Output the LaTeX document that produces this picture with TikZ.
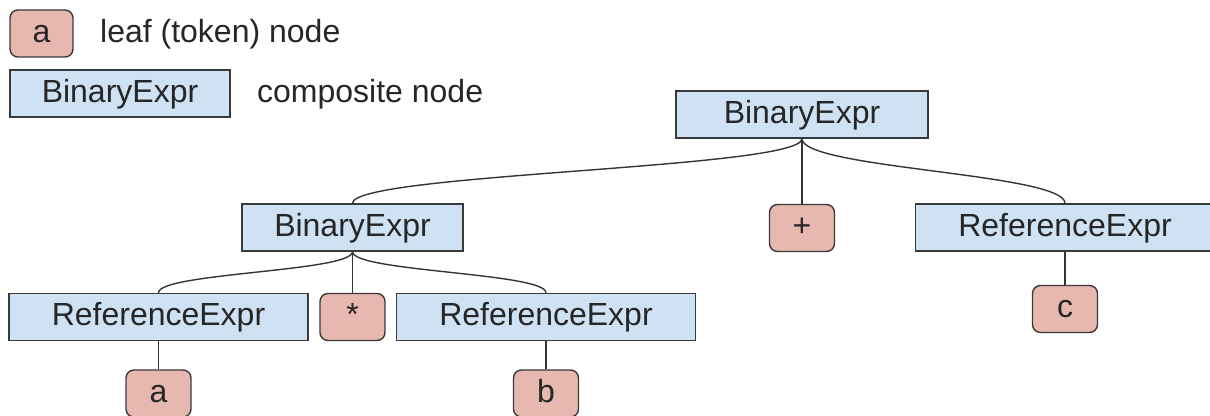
\documentclass[tikz,border=0pt]{standalone}
\usepackage{fontspec}
\setmainfont{Liberation Sans}
\definecolor{compfill}{HTML}{CFE2F3}
\definecolor{leaffill}{HTML}{E6B8AF}
\definecolor{edge}{HTML}{3A3A3A}
\tikzset{
  every node/.style={font=\fontsize{32}{38}\selectfont, text=black!85, inner sep=0pt, text height=24pt, text depth=7pt},
  comp/.style={draw=edge, line width=1.4pt, fill=compfill, minimum height=47pt},
  leaf/.style={draw=edge, line width=1.4pt, fill=leaffill, rounded corners=8pt, minimum width=65pt, minimum height=47pt},
  lbl/.style={anchor=west},
  conn/.style={draw=edge!90!black, line width=1.4pt}
}
\begin{document}
\begin{tikzpicture}[x=1pt,y=-1pt]
\clip (0,0) rectangle (1210,415);
% legend
\node[leaf, minimum width=63pt] (legA) at (41.5,33.5) {a};
\node[lbl] (legT1) at (100,33.5) {leaf (token) node};
\node[comp, rounded corners=0pt, minimum width=220pt] (legB) at (120,93.5) {BinaryExpr};
\node[lbl] (legT2) at (257,93.5) {composite node};
% tree
\node[comp, minimum width=252pt] (root) at (802,114.5) {BinaryExpr};
\node[comp, minimum width=221pt] (bin2) at (352.5,227.5) {BinaryExpr};
\node[leaf] (plus) at (802,228) {+};
\node[comp, minimum width=299pt] (ref3) at (1065,227.5) {ReferenceExpr};
\node[leaf] (c) at (1065,309) {c};
\node[comp, minimum width=299pt] (ref1) at (158.5,317) {ReferenceExpr};
\node[leaf] (star) at (352.5,317) {*};
\node[comp, minimum width=299pt] (ref2) at (546,317) {ReferenceExpr};
\node[leaf] (a) at (158.5,393.5) {a};
\node[leaf] (b) at (546,393.5) {b};
% connectors
\draw[conn] (root.south) .. controls +(0,30) and +(0,-30) .. (bin2.north);
\draw[conn] (root.south) -- (plus.north);
\draw[conn] (root.south) .. controls +(0,30) and +(0,-30) .. (ref3.north);
\draw[conn] (bin2.south) .. controls +(0,20) and +(0,-20) .. (ref1.north);
\draw[conn] (bin2.south) -- (star.north);
\draw[conn] (bin2.south) .. controls +(0,20) and +(0,-20) .. (ref2.north);
\draw[conn] (ref1.south) -- (a.north);
\draw[conn] (ref2.south) -- (b.north);
\draw[conn] (ref3.south) -- (c.north);
\end{tikzpicture}
\end{document}
